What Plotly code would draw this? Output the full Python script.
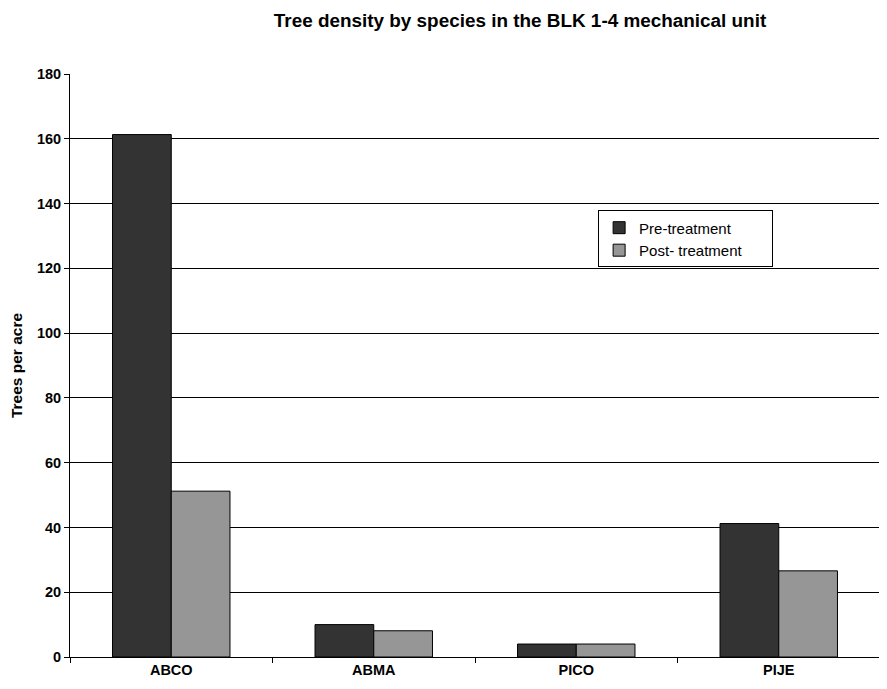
import plotly.graph_objects as go

species = ["ABCO", "ABMA", "PICO", "PIJE"]
pre_treatment = [161.3, 10.0, 4.0, 41.2]
post_treatment = [51.2, 8.1, 4.0, 26.6]
y_ticks = [0, 20, 40, 60, 80, 100, 120, 140, 160, 180]

PAD = "&nbsp;" * 6

fig = go.Figure()
fig.add_trace(go.Bar(x=species, y=pre_treatment, name="Pre-treatment",
                     marker=dict(color="#333333", line=dict(color="#000000", width=1))))
fig.add_trace(go.Bar(x=species, y=post_treatment, name="Post- treatment" + PAD,
                     marker=dict(color="#969696", line=dict(color="#000000", width=1))))

FONT = "Liberation Sans, Arial, sans-serif"

fig.update_layout(
    width=879, height=681,
    margin=dict(l=62, r=7, t=66, b=32, autoexpand=False),
    paper_bgcolor="white", plot_bgcolor="white",
    font=dict(family=FONT, color="#000000"),
    title=dict(text="<b>Tree density by species in the BLK 1-4 mechanical unit</b>",
               x=0.5825, xanchor="center", y=0.982, yanchor="middle",
               font=dict(size=18.9)),
    barmode="group", bargap=0.42, bargroupgap=0,
    showlegend=True,
    legend=dict(x=0.652, xanchor="left", y=0.766, yanchor="top",
                bordercolor="#000000", borderwidth=1, bgcolor="white",
                font=dict(size=15), traceorder="normal",
                itemwidth=30, tracegroupgap=0),
)
fig.update_xaxes(showline=True, linecolor="#000000", linewidth=1,
                 ticks="outside", ticklen=5, tickcolor="#000000", tickson="boundaries",
                 tickfont=dict(size=14.5), automargin=False,
                 tickprefix="<b>", ticksuffix="</b>", showgrid=False)
fig.update_yaxes(range=[0, 180], tickvals=y_ticks,
                 ticktext=[f"<b>{v}</b>" for v in y_ticks],
                 showline=True, linecolor="#000000", linewidth=1,
                 ticks="outside", ticklen=5, tickcolor="#000000",
                 showgrid=True, gridcolor="#000000", gridwidth=1,
                 zeroline=False, automargin=False,
                 tickfont=dict(size=14.5),
                 title=dict(text="<b>Trees per acre</b>", font=dict(size=15.5), standoff=10))

fig.write_html("out.html")
